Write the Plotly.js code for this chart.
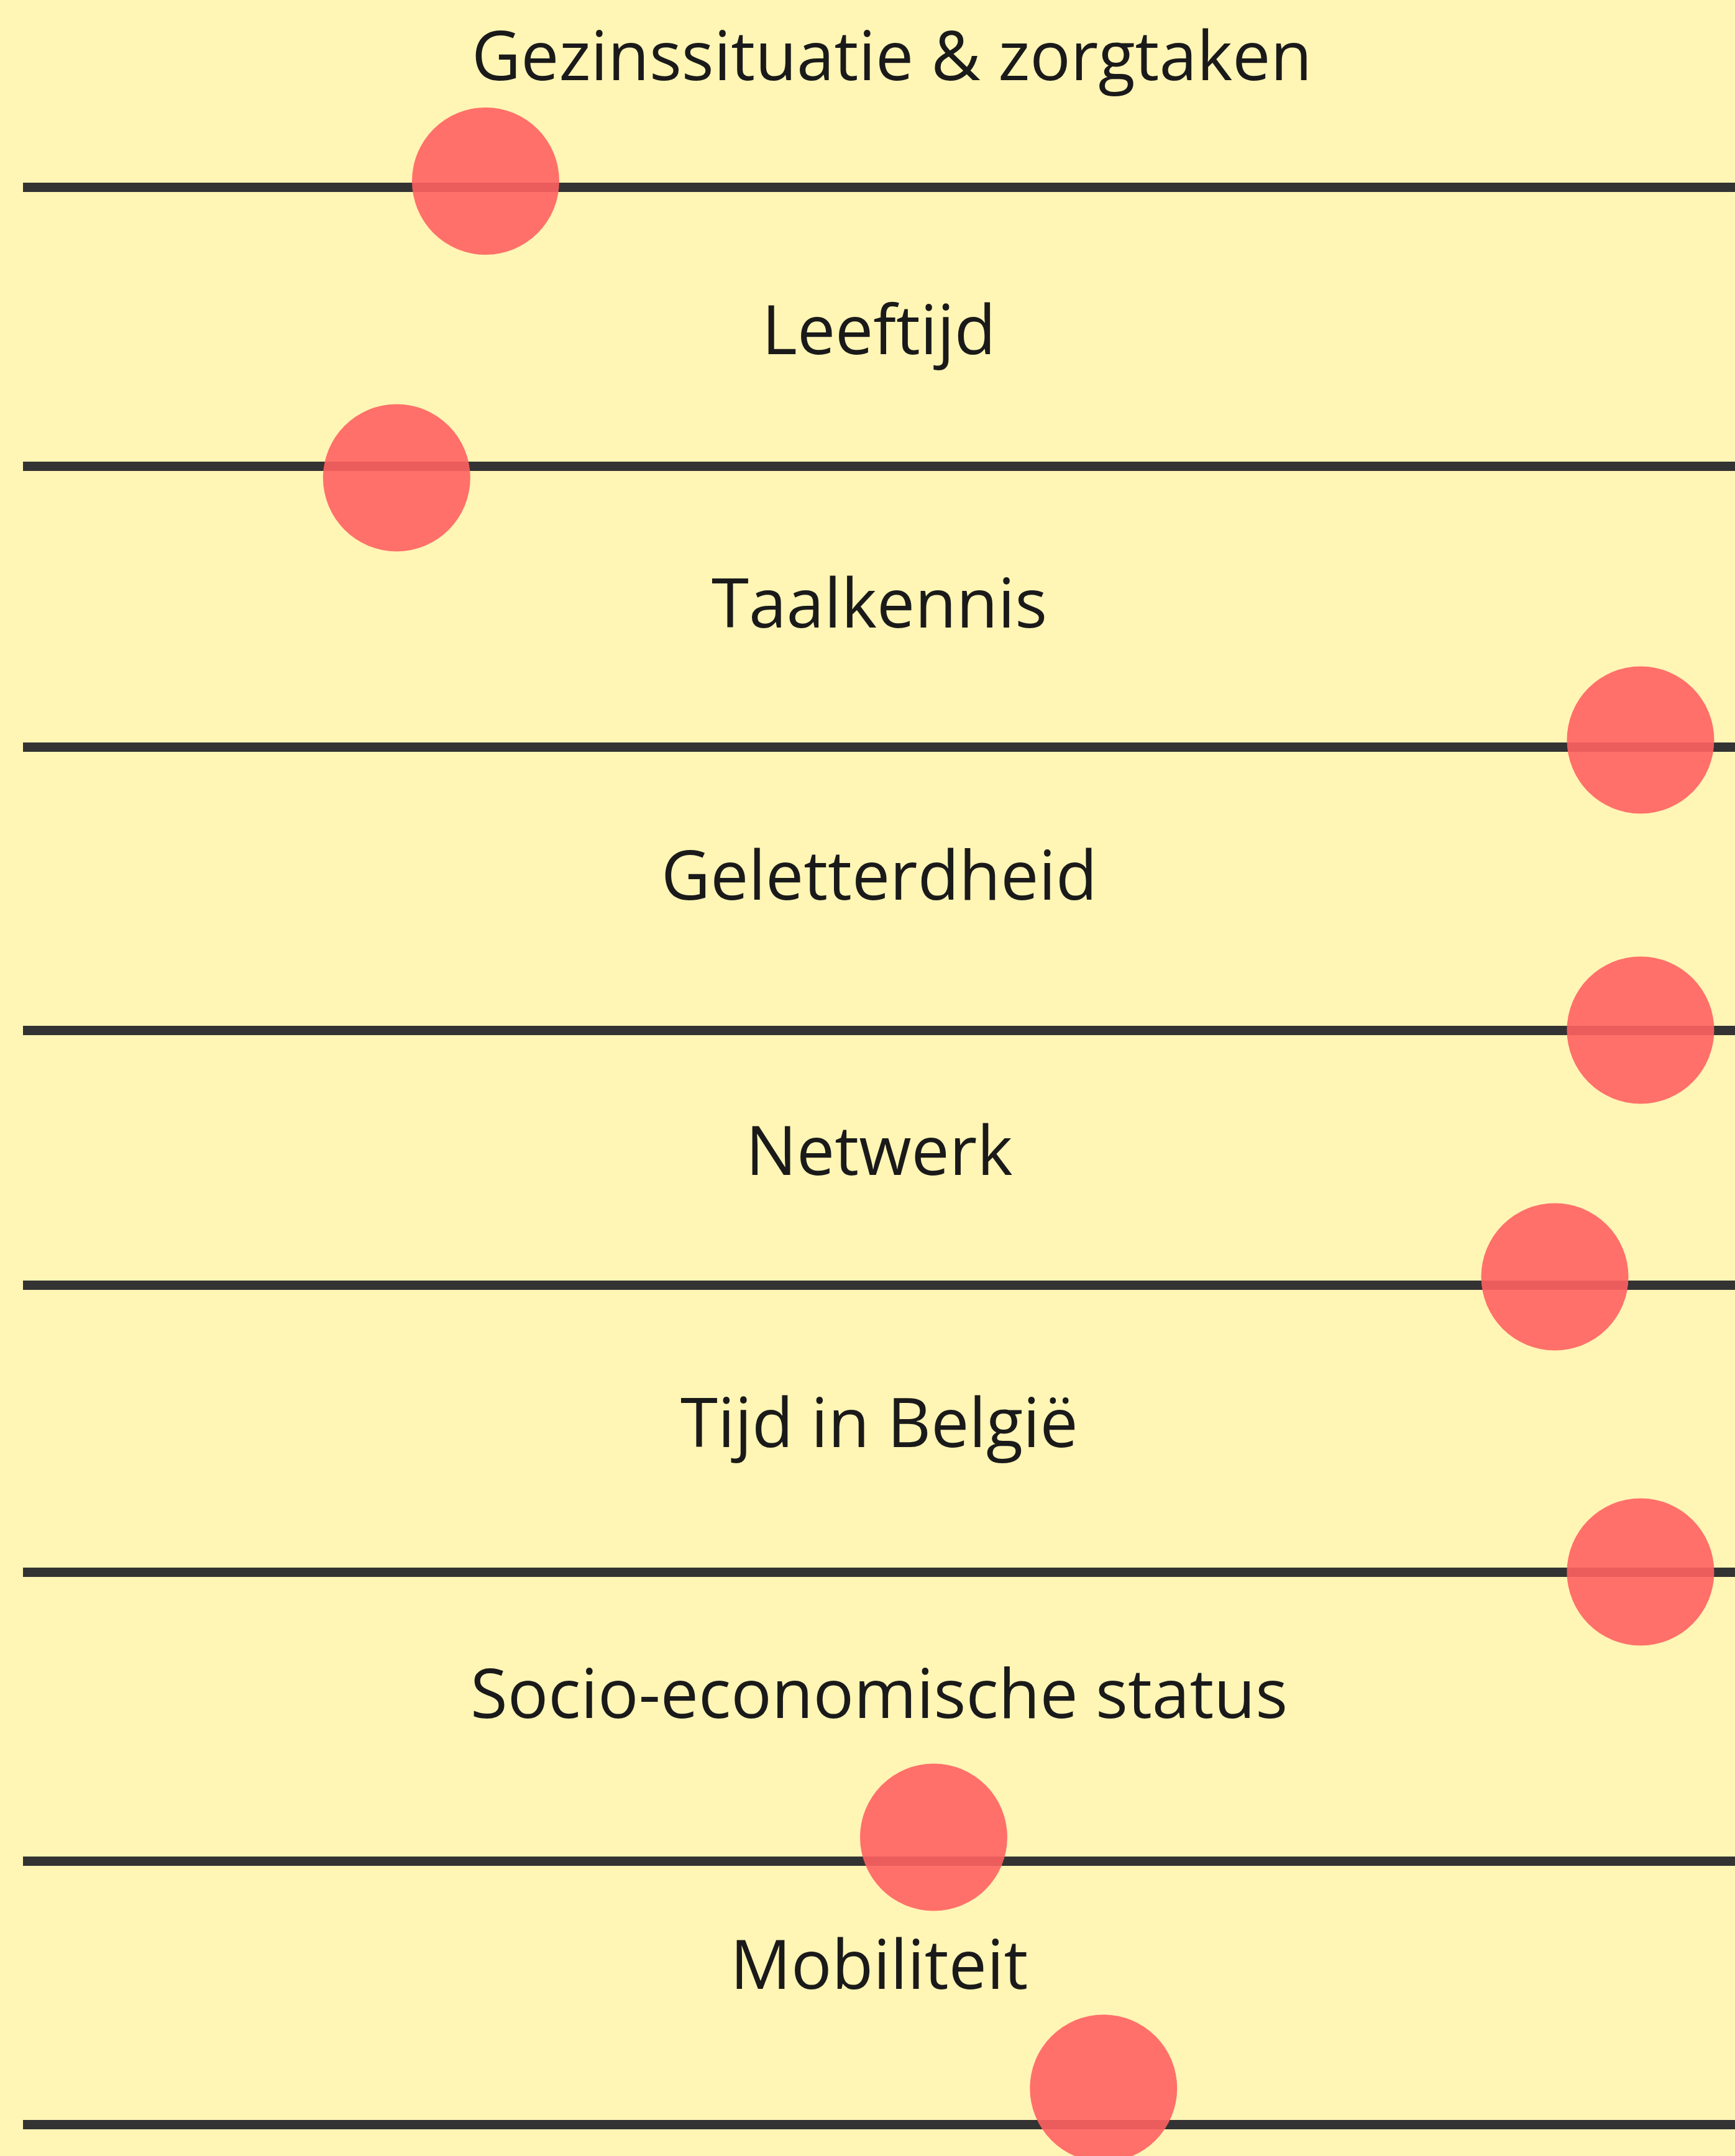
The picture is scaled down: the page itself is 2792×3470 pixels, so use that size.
<!DOCTYPE html>
<html>
<head>
<meta charset="utf-8">
<script src="https://cdn.plot.ly/plotly-3.0.1.min.js"></script>
<style>
  html, body { margin: 0; padding: 0; background: #FFF5B5; }
  #chart { width: 2792px; height: 3470px; }
</style>
</head>
<body>
<div id="chart"></div>
<script>
// ---- Data ----
const categories = [
  "Gezinssituatie & zorgtaken",
  "Leeftijd",
  "Taalkennis",
  "Geletterdheid",
  "Netwerk",
  "Tijd in België",
  "Socio-economische status",
  "Mobiliteit"
];
const scores = [28.6, 23.1, 100, 100, 94.7, 100, 56.3, 66.8];   // position on the line (0–100)
const jitter = [9.5, -19, 11, 0, 13, 0, 38, 58];                 // small vertical offset of each dot

// ---- Layout geometry (pixels) ----
const W = 2792, H = 3470;
const lineY  = [301, 750, 1202, 1658, 2068, 2530, 2995, 3419];  // row baselines
const labelY = [87, 527, 967, 1405, 1848, 2286, 2722, 3158];    // label centres
const labelShift = [20, 0, 0, 0, 0, 0, 0, 0];
const below = 40, above = 100;
const xStart = 37;

const traces = [];
const layout = {
  width: W, height: H,
  margin: {l: 0, r: 0, t: 0, b: 0, pad: 0},
  paper_bgcolor: '#FFF5B5',
  plot_bgcolor: 'rgba(0,0,0,0)',
  showlegend: false,
  font: {family: 'Open Sans, sans-serif', color: '#1a1a1a'},
  annotations: []
};

categories.forEach((cat, i) => {
  const n = i + 1;
  const sfx = (n === 1 ? '' : String(n));
  traces.push({
    type: 'scatter', mode: 'markers',
    x: [scores[i]], y: [jitter[i]],
    xaxis: 'x' + sfx, yaxis: 'y' + sfx,
    cliponaxis: false,
    marker: {size: 237, color: '#FF6262', opacity: 0.9, line: {width: 0}},
    hoverinfo: 'skip'
  });
  layout['xaxis' + sfx] = {
    domain: [xStart / W, 1],
    anchor: 'y' + sfx,
    range: [0, 105.84],
    showline: false, showgrid: false, zeroline: false,
    showticklabels: false, ticks: '', fixedrange: true
  };
  layout['yaxis' + sfx] = {
    domain: [1 - (lineY[i] + below) / H, 1 - (lineY[i] - above) / H],
    anchor: 'x' + sfx,
    range: [-below, above],
    showline: false, showgrid: false,
    zeroline: true, zerolinecolor: '#333333', zerolinewidth: 15,
    showticklabels: false, ticks: '', fixedrange: true
  };
  layout.annotations.push({
    text: cat,
    xref: 'paper', yref: 'paper',
    x: (xStart + (W - xStart) / 2) / W,
    y: 1 - labelY[i] / H,
    xshift: labelShift[i],
    xanchor: 'center', yanchor: 'middle',
    showarrow: false,
    font: {family: 'Open Sans, sans-serif', size: 109, color: '#1a1a1a'}
  });
});

Plotly.newPlot('chart', traces, layout, {staticPlot: true, displayModeBar: false});
</script>
</body>
</html>
